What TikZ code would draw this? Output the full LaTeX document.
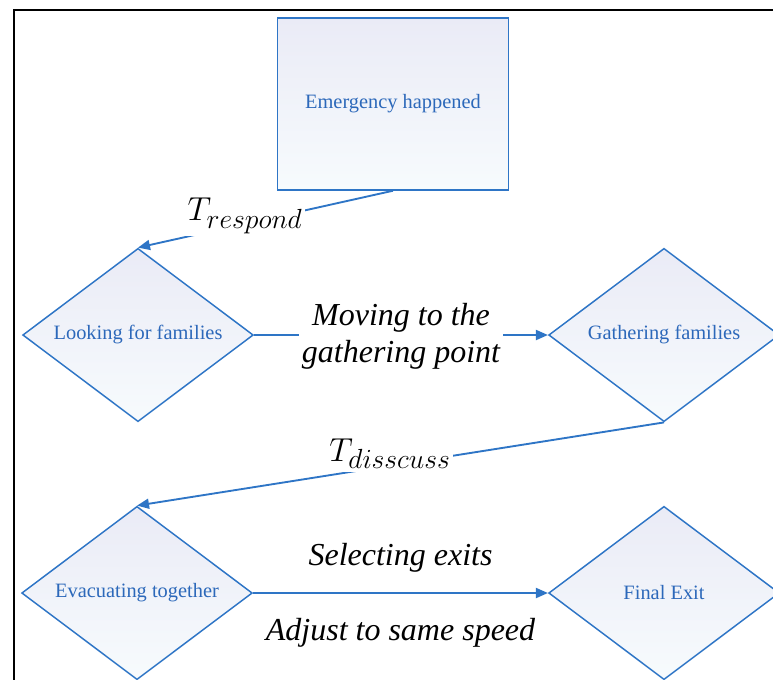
\documentclass[tikz,border=0pt]{standalone}
\usepackage{fontspec}
\setmainfont{Liberation Serif}
\usetikzlibrary{arrows.meta,shapes.geometric}
\definecolor{flowblue}{RGB}{46,117,198}
\definecolor{txtblue}{RGB}{44,104,186}
\definecolor{filltop}{RGB}{234,235,246}
\definecolor{fillbot}{RGB}{247,251,253}
\tikzset{
  box/.style  ={draw=flowblue,line width=1.1pt,top color=filltop,bottom color=fillbot,
                minimum width=173pt,minimum height=129pt,font=\fontsize{15.3}{18}\selectfont,text=txtblue},
  dmd/.style  ={diamond,draw=flowblue,line width=1.1pt,top color=filltop,bottom color=fillbot,
                minimum width=173pt,minimum height=130pt,aspect=1.33,inner sep=0pt,
                font=\fontsize{15.3}{18}\selectfont,text=txtblue},
  ar/.style   ={-{Triangle[length=9pt,width=7.5pt]},draw=flowblue,line width=1.4pt},
  lbl/.style  ={font=\fontsize{24}{28}\selectfont\itshape,align=center,inner sep=2pt},
  tlbl/.style ={font=\fontsize{28}{30}\selectfont,fill=white,inner sep=2pt},
}
\begin{document}
\begin{tikzpicture}[x=0.75pt,y=-0.75pt]
  \clip (0,0) rectangle (773,679);
  % frame
  \draw[line width=2pt] (14,720) -- (14,10) -- (820,10);
  % steps
  \node[box] (emerg)  at (393,104) {Emergency happened};
  \node[dmd] (look)   at (138,335) {Looking for families};
  \node[dmd] (gather) at (664,335) {Gathering families};
  \node[dmd] (evac)   at (137,593) {Evacuating together};
  \node[dmd] (exit)   at (664,593) {Final Exit};
  % transitions
  \draw[ar] (emerg.south) -- node[tlbl,pos=0.58,yshift=6pt] {$T_{respond}$} (look.north);
  \draw[ar] (look.east) -- node[lbl,fill=white,yshift=-1pt] {Moving to the\\gathering point} (gather.west);
  \draw[ar] (gather.south) -- node[tlbl,pos=0.52,yshift=9pt] {$T_{disscuss}$} (evac.north);
  \draw[ar] (evac.east) -- node[lbl,above=13pt] {Selecting exits}
                           node[lbl,below=16pt] {Adjust to same speed} (exit.west);
\end{tikzpicture}
\end{document}
